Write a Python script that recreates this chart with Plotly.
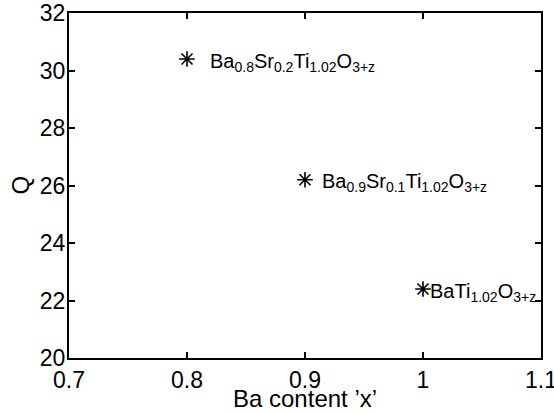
import plotly.graph_objects as go

# Ba content and quality factor for the three compositions
ba_content = [0.8, 0.9, 1.0]
q_values = [30.4, 26.2, 22.4]
compositions = [
    "Ba<sub>0.8</sub>Sr<sub>0.2</sub>Ti<sub>1.02</sub>O<sub>3+z</sub>",
    "Ba<sub>0.9</sub>Sr<sub>0.1</sub>Ti<sub>1.02</sub>O<sub>3+z</sub>",
    "BaTi<sub>1.02</sub>O<sub>3+z</sub>",
]
# horizontal offset of each composition label from its point (data units)
label_dx = [0.018, 0.013, 0.004]

x_ticks = [0.7, 0.8, 0.9, 1.0, 1.1]
x_tick_text = ["0.7", "0.8", "0.9", "1", "1.1"]
y_ticks = [20, 22, 24, 26, 28, 30, 32]
x_title = "Ba content ’x’"
y_title = "Q"

FONT = "Liberation Sans, Arial, sans-serif"

fig = go.Figure()
fig.add_trace(go.Scatter(
    x=ba_content, y=q_values, mode="markers",
    marker=dict(symbol="asterisk-open", size=13, color="black",
                line=dict(color="black", width=1.6)),
    showlegend=False, hoverinfo="skip",
))

for xv, yv, txt, dx in zip(ba_content, q_values, compositions, label_dx):
    fig.add_annotation(
        x=xv + dx, y=yv, text=txt, showarrow=False,
        xanchor="left", yanchor="middle", yshift=-3,
        font=dict(family=FONT, size=20, color="black"),
    )

# axis titles placed just outside the plot frame
fig.add_annotation(
    x=0.5, y=0, xref="paper", yref="paper", text=x_title, showarrow=False,
    xanchor="center", yanchor="middle", yshift=-40,
    font=dict(family=FONT, size=24, color="black"),
)
fig.add_annotation(
    x=0, y=0.5, xref="paper", yref="paper", text=y_title, showarrow=False,
    xanchor="center", yanchor="middle", xshift=-49, textangle=-90,
    font=dict(family=FONT, size=24, color="black"),
)

axis_common = dict(
    showline=True, linecolor="black", linewidth=2, mirror="ticks",
    ticks="inside", ticklen=6, tickwidth=1.5, tickcolor="black",
    showgrid=False, zeroline=False, automargin=False,
    tickfont=dict(family=FONT, size=23, color="black"),
    ticklabeloverflow="allow",
)

fig.update_layout(
    width=554, height=413,
    margin=dict(l=69, r=13, t=13, b=55),
    paper_bgcolor="white", plot_bgcolor="white",
    xaxis=dict(range=[0.7, 1.1], tickvals=x_ticks, ticktext=x_tick_text,
               ticklabelstandoff=0, **axis_common),
    yaxis=dict(range=[20, 32], tickvals=y_ticks,
               ticklabelstandoff=-3, **axis_common),
)

fig.write_html("out.html")
